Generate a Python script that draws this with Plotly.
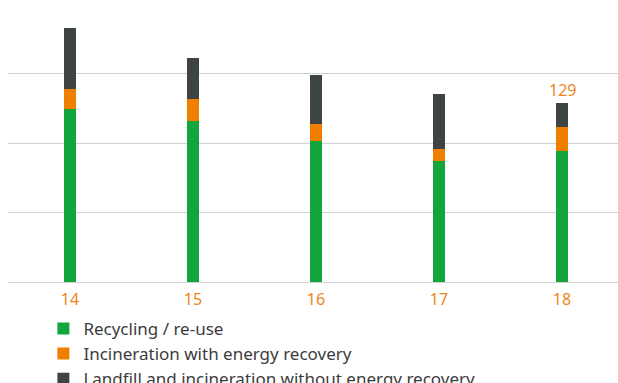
import plotly.graph_objects as go

years = ["14", "15", "16", "17", "18"]
recycling = [124.2, 116.0, 101.6, 87.1, 94.5]
incineration_energy = [14.9, 15.9, 12.3, 8.7, 16.8]
landfill = [43.3, 29.6, 34.7, 39.7, 17.7]
label_value = "129"

series = [
    ("Recycling / re-use", recycling, "#12a53c"),
    ("Incineration with energy recovery", incineration_energy, "#f07f00"),
    ("Landfill and incineration without energy recovery", landfill, "#3e4442"),
]

xpos = list(range(len(years)))
fig = go.Figure()
for name, vals, col in series:
    fig.add_trace(go.Bar(x=xpos, y=vals, name=name, marker_color=col,
                         marker_line_width=0, width=0.0976, hoverinfo="skip"))

total_last = sum(s[1][-1] for s in series)
fig.add_annotation(x=xpos[-1], y=total_last, text=label_value, showarrow=False,
                   yanchor="bottom", yshift=0,
                   font=dict(family="Noto Sans", size=16, color="#f0841c"))

fig.update_layout(
    width=618, height=383,
    margin=dict(l=8, r=0, t=4, b=101, autoexpand=False),
    barmode="stack",
    plot_bgcolor="white", paper_bgcolor="white",
    showlegend=True,
    legend=dict(x=0.058, xanchor="left", y=-0.104, yanchor="top",
                traceorder="normal", orientation="v",
                font=dict(family="Noto Sans", size=17, color="#3c3c3c"),
                bgcolor="rgba(0,0,0,0)", tracegroupgap=0),
    xaxis=dict(range=[-0.504, 4.455], tickmode="array", tickvals=xpos, ticktext=years,
               showgrid=False, zeroline=False, showline=False,
               tickfont=dict(family="Noto Sans", size=16, color="#f0841c"),
               ticks="outside", ticklen=3, tickcolor="rgba(0,0,0,0)"),
    yaxis=dict(range=[0, 200], tickvals=[0, 50, 100, 150, 200], showticklabels=False,
               showgrid=True, gridcolor="#d0d0d0", gridwidth=1,
               zeroline=True, zerolinecolor="#d0d0d0", zerolinewidth=1,
               showline=False, ticks=""),
)

fig.write_html("out.html")
